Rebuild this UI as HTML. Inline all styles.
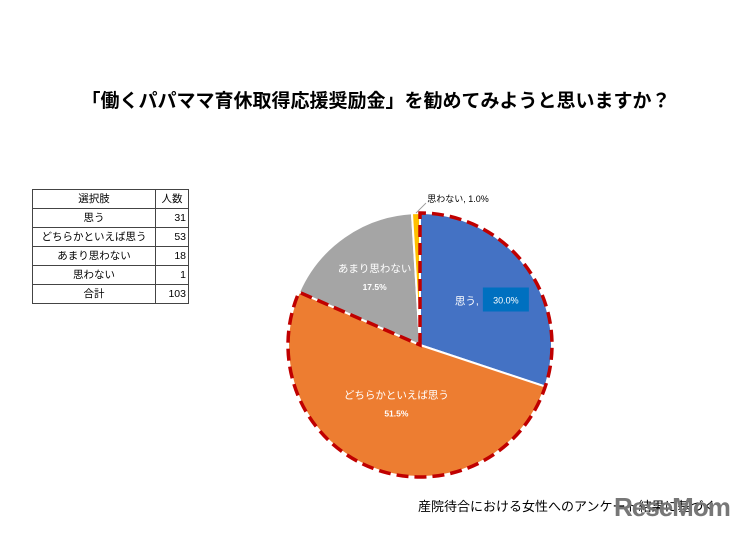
<!DOCTYPE html>
<html><head><meta charset="utf-8">
<style>
body{margin:0;width:752px;height:535px;background:#fff;overflow:hidden;position:relative;font-family:"Liberation Sans","Noto Sans CJK JP",sans-serif}
#title{position:absolute;left:0;width:752px;top:86px;text-align:center;font-size:19px;font-weight:bold;color:#000}
table{position:absolute;left:32px;top:189px;border-collapse:collapse;font-size:10.5px}
td{border:1px solid #444;height:18px;padding:0 2px;line-height:18px}
td.l{width:118px;text-align:center}td.r{width:28px;text-align:right}td.rc{text-align:center}
#foot{position:absolute;left:418px;top:496px;font-size:13px;color:#000}
#logo{position:absolute;left:614px;top:492px;font-size:26px;font-weight:bold;color:#777;letter-spacing:-1px}
</style></head><body>
<div id="title">「働くパパママ育休取得応援奨励金」を勧めてみようと思いますか？</div>
<table>
<tr><td class="l">選択肢</td><td class="rc">人数</td></tr>
<tr><td class="l">思う</td><td class="r">31</td></tr>
<tr><td class="l">どちらかといえば思う</td><td class="r">53</td></tr>
<tr><td class="l">あまり思わない</td><td class="r">18</td></tr>
<tr><td class="l">思わない</td><td class="r">1</td></tr>
<tr><td class="l">合計</td><td class="r">103</td></tr>
</table>
<svg id="pie" width="752" height="535" style="position:absolute;left:0;top:0"></svg>
<div id="foot">産院待合における女性へのアンケート結果に基づく</div>
<div id="logo">ReseMom</div>
<script>
const categories=["思う","どちらかといえば思う","あまり思わない","思わない"];
const values=[31,53,18,1];
const pctLabels=["30.0%","51.5%","17.5%","1.0%"];
const colors=["#4472C4","#ED7D31","#A5A5A5","#FFC000"];
const NS="http://www.w3.org/2000/svg";
const svg=document.getElementById('pie');
const cx=420,cy=345,R=132;
const total=values.reduce((a,b)=>a+b,0);
function pt(a,r){return [cx+r*Math.sin(a),cy-r*Math.cos(a)];}
let a0=0;const angs=[];
values.forEach((v,i)=>{
  const a1=a0+v/total*2*Math.PI;angs.push([a0,a1]);
  const p0=pt(a0,R),p1=pt(a1,R);const large=(a1-a0)>Math.PI?1:0;
  const p=document.createElementNS(NS,'path');
  p.setAttribute('d',`M${cx},${cy}L${p0[0]},${p0[1]}A${R},${R} 0 ${large} 1 ${p1[0]},${p1[1]}Z`);
  p.setAttribute('fill',colors[i]);p.setAttribute('stroke','#fff');p.setAttribute('stroke-width','2');
  
  
  svg.appendChild(p);a0=a1;
});
const s=angs[0][0],e=angs[1][1];const ps=pt(s,R),pe=pt(e,R);
const d=document.createElementNS(NS,'path');
d.setAttribute('d',`M${cx},${cy}L${ps[0]},${ps[1]}A${R},${R} 0 1 1 ${pe[0]},${pe[1]}Z`);
d.setAttribute('fill','none');d.setAttribute('stroke','#C00000');d.setAttribute('stroke-width','3.5');d.setAttribute('stroke-dasharray','12 6');


svg.appendChild(d);
function txt(x,y,t,fill,size,w){const el=document.createElementNS(NS,'text');el.setAttribute('x',x);el.setAttribute('y',y);el.setAttribute('fill',fill);el.setAttribute('font-size',size);el.setAttribute('text-anchor','middle');if(w)el.setAttribute('font-weight',w);el.textContent=t;svg.appendChild(el);return el;}
let m=(angs[0][0]+angs[0][1])/2;let q=pt(m,R*0.55);
const box=document.createElementNS(NS,'rect');box.setAttribute('x',q[0]+4);box.setAttribute('y',q[1]-15);box.setAttribute('width',46);box.setAttribute('height',24);box.setAttribute('fill','#0070C0');


svg.appendChild(box);
let t=txt(q[0]-12,q[1]+2,categories[0]+",","#fff",10.5);
t=txt(q[0]+27,q[1]+1,pctLabels[0],"#fff",9);
[1,2].forEach(i=>{m=(angs[i][0]+angs[i][1])/2;q=pt(m,i==1?R*0.5:R*0.6);
 t=txt(q[0],q[1]-8,categories[i],"#fff",10.5);
 t=txt(q[0],q[1]+10,pctLabels[i],"#fff",8.5,"bold");});
m=(angs[3][0]+angs[3][1])/2;q=pt(m,R);
const ln=document.createElementNS(NS,'line');ln.setAttribute('x1',q[0]);ln.setAttribute('y1',q[1]);ln.setAttribute('x2',q[0]+10);ln.setAttribute('y2',q[1]-10);ln.setAttribute('stroke','#999');


svg.appendChild(ln);
t=txt(q[0]+42,q[1]-11,categories[3]+", "+pctLabels[3],"#000",9);
</script>
</body></html>
